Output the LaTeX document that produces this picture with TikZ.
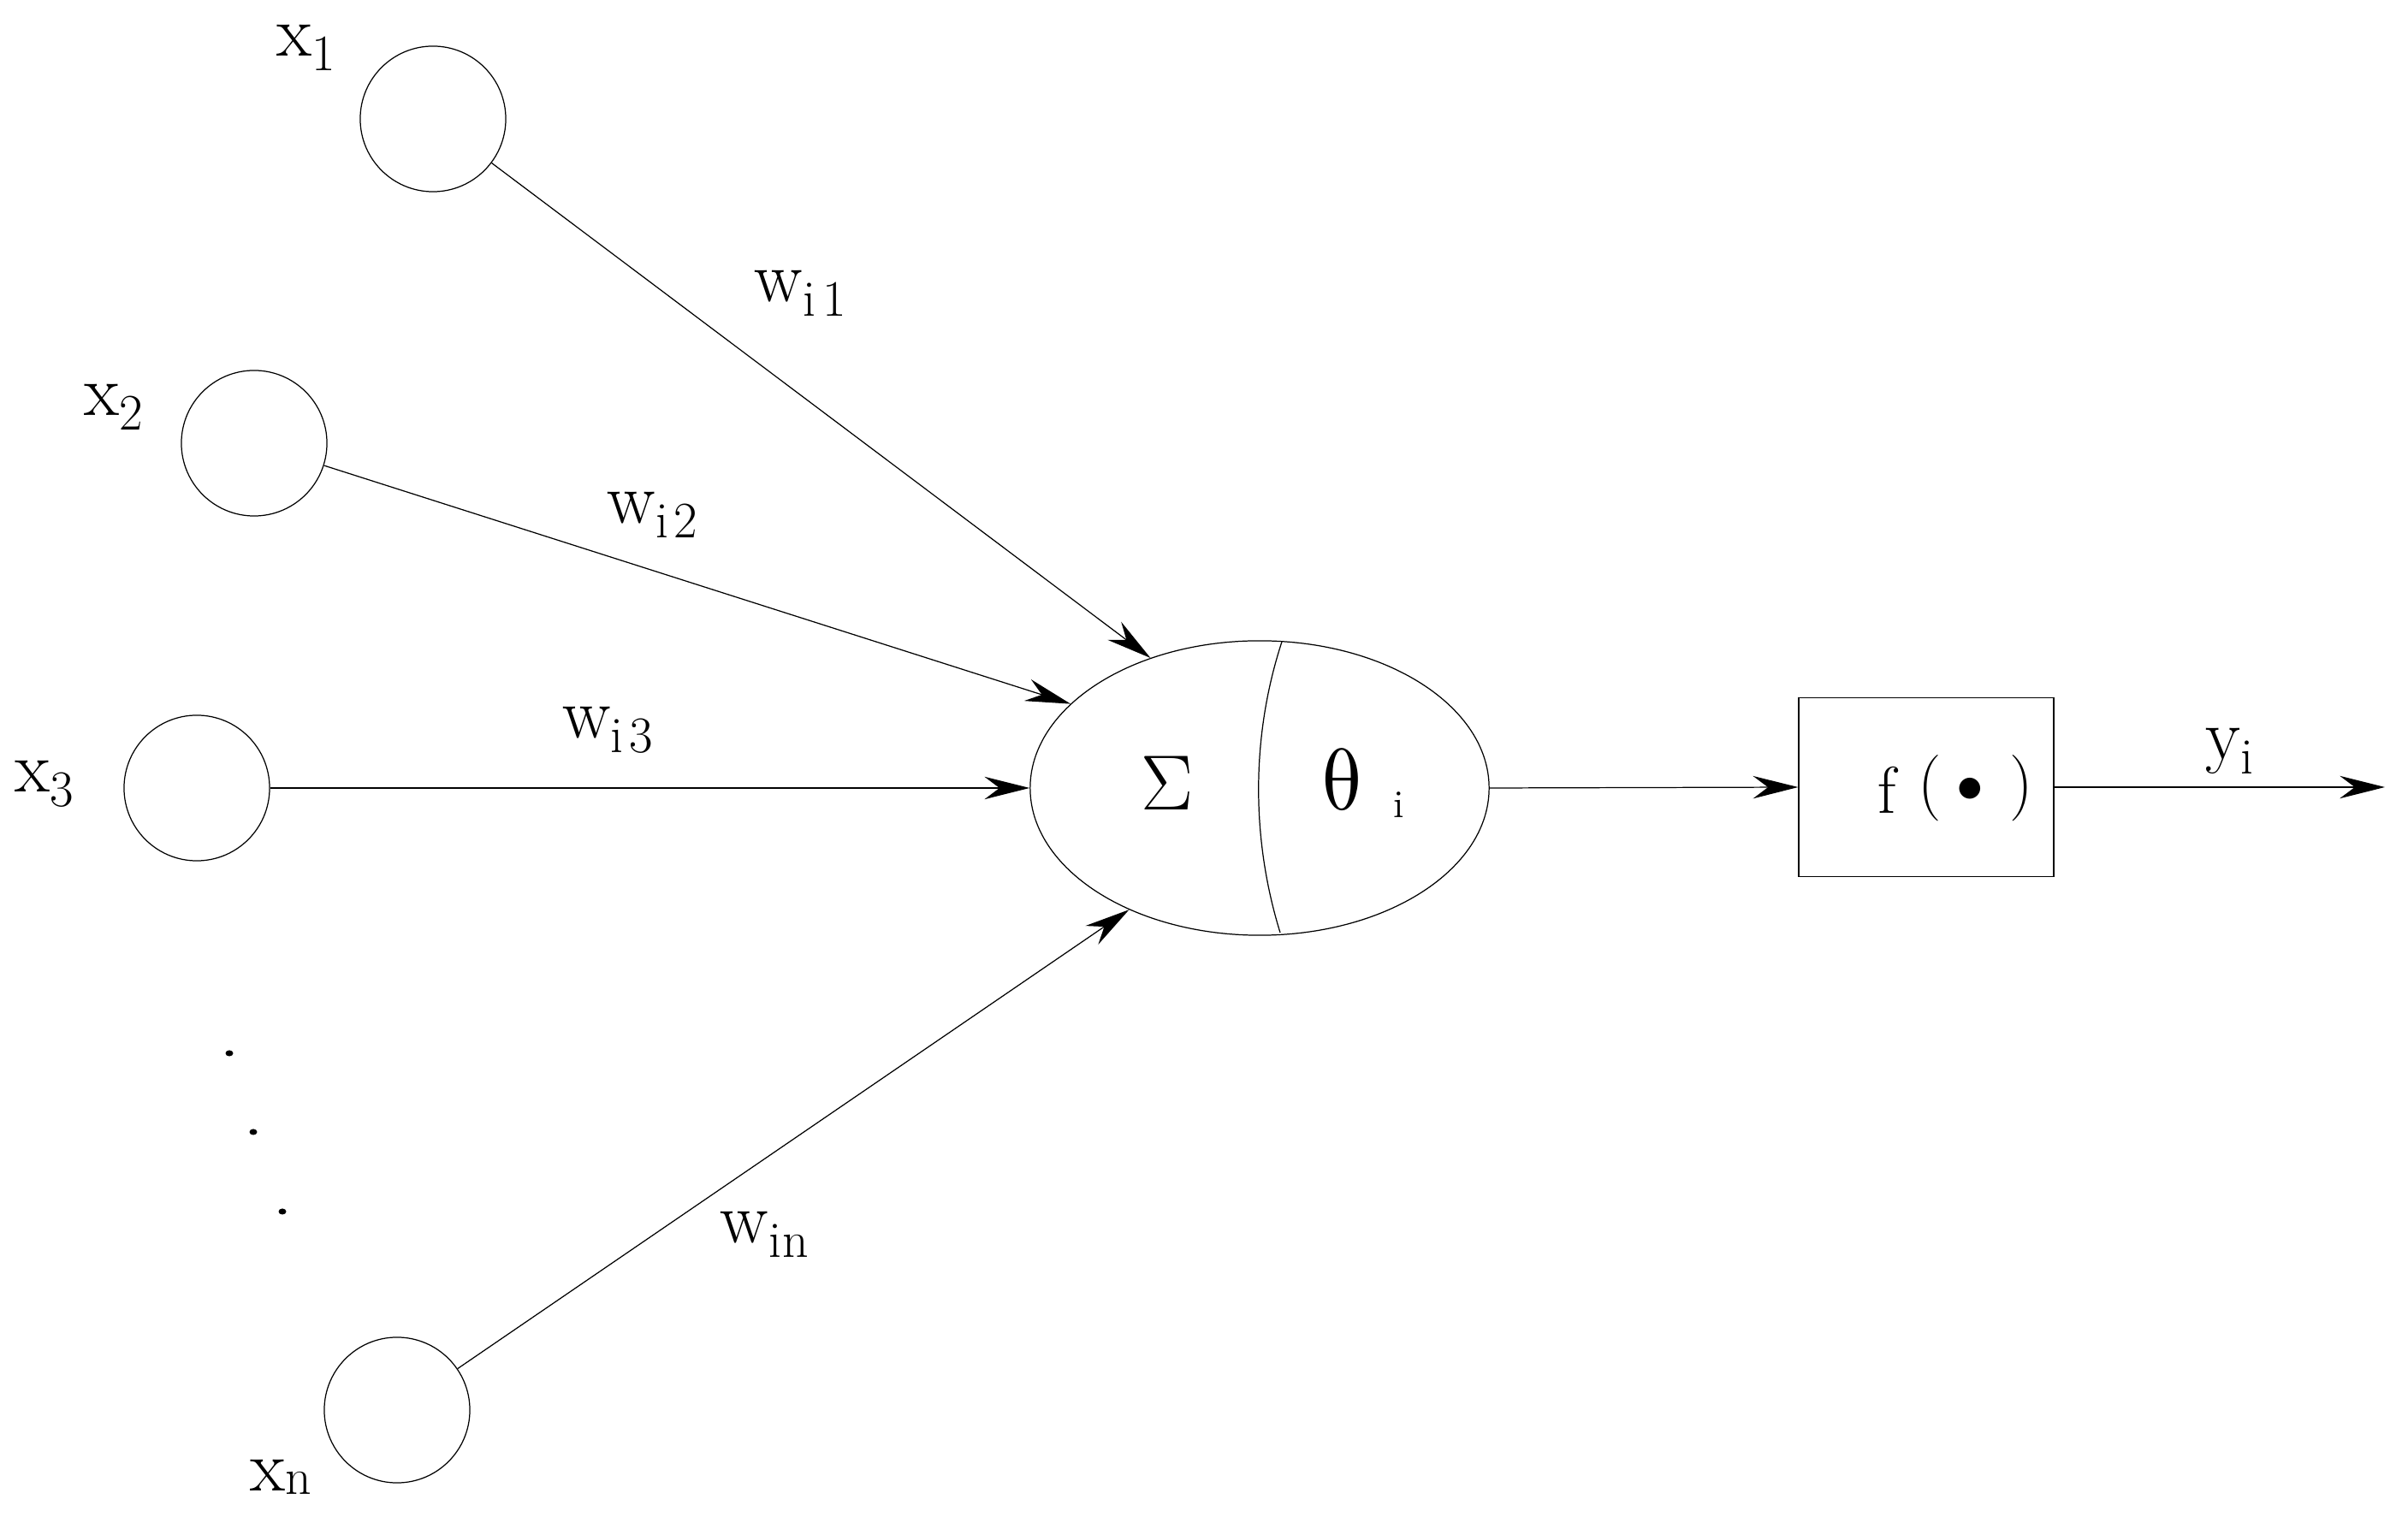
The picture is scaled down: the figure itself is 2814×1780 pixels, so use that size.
\RequirePackage{fix-cm}
\documentclass[tikz,border=0pt]{standalone}
\usepackage{fontspec}
\newfontfamily\grkfont{Latin Modern Math}
\usetikzlibrary{shapes.geometric,arrows.meta}
\newcommand{\lblfont}{\fontsize{24}{28}\selectfont}
\newcommand{\mysub}[2][4.6pt]{\raisebox{-#1}{\fontsize{17}{20}\selectfont #2}}
\begin{document}
\begin{tikzpicture}[x=0.01cm,y=-0.01cm,
  line width=0.35pt,
  inp/.style={draw,circle,minimum size=1.7cm,inner sep=0pt},
  lab/.style={anchor=base west,inner sep=0pt,font=\lblfont},
  arr/.style={-{Stealth[length=15pt,width=7.5pt,inset=5pt]}},
 ]
\fill[white] (0,0) rectangle (2814,1780);
\useasboundingbox (0,0) rectangle (2814,1780);

% input neurons
\node[inp] (x1) at (506,139) {};
\node[inp] (x2) at (297,518) {};
\node[inp] (x3) at (230,921) {};
\node[inp] (xn) at (464,1648) {};

% summation / threshold ellipse
\node[draw,ellipse,minimum width=5.36cm,minimum height=3.44cm,inner sep=0pt] (sig) at (1472,921) {};
\draw (1498,750) .. controls (1462,860) and (1462,980) .. (1496,1090);
\node[anchor=base west,inner sep=0pt,font=\fontsize{26}{30}\selectfont] (sum) at (1333,947) {$\Sigma$};
\node[anchor=base west,inner sep=0pt,font=\fontsize{29}{34}\selectfont\grkfont] (th) at (1543,947)
  {θ\hspace{10pt}\raisebox{-2.5pt}{\fontsize{13}{15}\selectfont\rmfamily i}};

% activation box
\node[draw,rectangle,minimum width=2.98cm,minimum height=2.09cm,inner sep=0pt] (fb) at (2251,920) {};
\node[anchor=base west,inner sep=0pt,font=\fontsize{22}{26}\selectfont] (ftxt) at (2194,951)
  {f\hspace{7.3pt}\raisebox{3pt}{(}\hspace{5pt}\raisebox{3.7pt}{\fontsize{18}{21}\selectfont$\bullet$}\hspace{8.5pt}\raisebox{3pt}{)}};
\coordinate (out) at (2787,920);

% labels
\node[lab] (lx1) at (323,66) {x\mysub{1}};
\node[lab] (lx2) at (98,486) {x\mysub{2}};
\node[lab] (lx3) at (17,926) {x\mysub{3}};
\node[lab] (lxn) at (292,1743) {x\mysub[1pt]{n}};
\node[lab] (lw1) at (881,353) {w\mysub{i\hspace{2.5pt}1}};
\node[lab] (lw2) at (709,612) {w\mysub{i\hspace{2pt}2}};
\node[lab] (lw3) at (657,863) {w\mysub{i\hspace{2pt}3}};
\node[lab] (lwn) at (841,1453) {w\mysub{i\hspace{0.5pt}n}};
\node[lab] (ly) at (2577,888) {y\mysub{i}};

% dots
\fill (268,1231) ellipse [x radius=0.045cm, y radius=0.035cm];
\fill (296,1323) ellipse [x radius=0.045cm, y radius=0.035cm];
\fill (330,1416) ellipse [x radius=0.045cm, y radius=0.035cm];

% connectors
\draw[arr] (x1) -- (sig.130);
\draw[arr] (x2) -- (sig.156);
\draw[arr] (x3) -- (sig.west);
\draw[arr] (xn) -- (sig.223);
\draw[arr] (sig.east) -- (fb.west);
\draw[arr] (fb.east) -- (out);
\end{tikzpicture}
\end{document}
